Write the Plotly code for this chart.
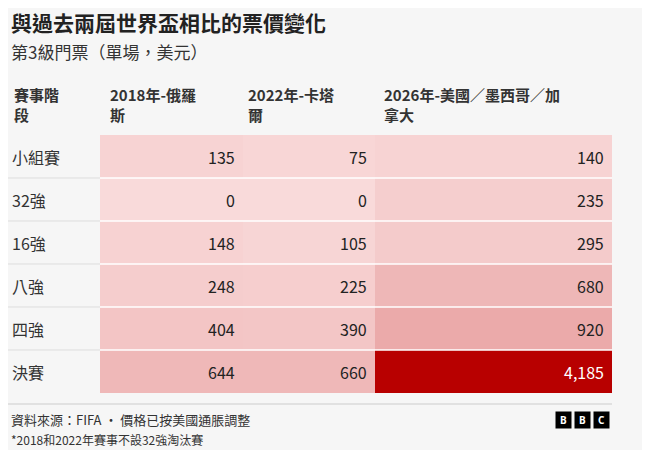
import plotly.graph_objects as go

stages = ["小組賽", "32強", "16強", "八強", "四強", "決賽"]
headers = ["賽事階<br>段", "2018年-俄羅<br>斯", "2022年-卡塔<br>爾", "2026年-美國／墨西哥／加<br>拿大"]
v2018 = [135, 0, 148, 248, 404, 644]
v2022 = [75, 0, 105, 225, 390, 660]
v2026 = [140, 235, 295, 680, 920, 4185]

# page is drawn in reference pixel coordinates; browser body adds an 8px margin
OFF = 8
W, H = 650 - 2 * OFF, 458 - 2 * OFF
BG = "#f6f6f6"
FONT = "Noto Sans CJK TC"

col_edges = [100, 243, 375, 612]
row_top, row_h = 135, 43
row_edges = [row_top + i * row_h for i in range(len(stages) + 1)]
row_mid = [(row_edges[i] + row_edges[i + 1]) / 2 for i in range(len(stages))]

z = [[v2018[i], v2022[i], v2026[i]] for i in range(len(stages))]

fig = go.Figure(go.Heatmap(
    x=col_edges, y=row_edges, z=z, zmin=0, zmax=max(v2026),
    colorscale=[[0, "#f9dada"], [1, "#b80000"]], showscale=False,
    hoverinfo="skip",
))

# white separators between rows in the coloured area, grey in the label column
for y in row_edges[1:-1]:
    fig.add_shape(type="line", x0=col_edges[0], x1=col_edges[-1], y0=y, y1=y,
                  line=dict(color="white", width=1.5))
    fig.add_shape(type="line", x0=8, x1=col_edges[0], y0=y, y1=y,
                  line=dict(color="#dddddd", width=1))
fig.add_shape(type="line", x0=8, x1=612, y0=404, y1=404, line=dict(color="#cccccc", width=1))


def text(x, y, s, size=16, color="#222", anchor="left"):
    fig.add_annotation(x=x, y=y, text=s, showarrow=False, xanchor=anchor, yanchor="middle",
                       align="left", font=dict(family=FONT, size=size, color=color))


for i, s in enumerate(stages):
    text(10, row_mid[i], s, color="#333")
    for j, col in enumerate((v2018, v2022, v2026)):
        v = col[i]
        text(col_edges[j + 1] - 6, row_mid[i], f"{v:,}", anchor="right",
             color="white" if v > 2000 else "#222")

head_x = [12, 108, 246, 382]
for x, h in zip(head_x, headers):
    fig.add_annotation(x=x, y=104, text=f"<b>{h}</b>", showarrow=False, xanchor="left",
                       yanchor="middle", align="left",
                       font=dict(family=FONT, size=15, color="#333"))

text(9, 22, "<b>與過去兩屆世界盃相比的票價變化</b>", size=21)
text(9, 51, "第3級門票（單場，美元）", size=17, color="#333")
text(9, 419, "資料來源：FIFA • 價格已按美國通脹調整", size=13, color="#333")
text(9, 439, "*2018和2022年賽事不設32強淘汰賽", size=12, color="#333")

for i, ch in enumerate("BBC"):
    fig.add_annotation(x=563 + i * 19, y=420, showarrow=False, text=f"<b>{ch}</b>",
                       bgcolor="black", width=13, height=14,
                       font=dict(family="Noto Sans", size=10, color="white"))

fig.update_xaxes(range=[OFF, 650 - OFF], visible=False, fixedrange=True)
fig.update_yaxes(range=[458 - OFF, OFF], visible=False, fixedrange=True)
fig.update_layout(width=W, height=H, margin=dict(l=0, r=0, t=0, b=0),
                  paper_bgcolor=BG, plot_bgcolor=BG)
fig.write_html("out.html")
